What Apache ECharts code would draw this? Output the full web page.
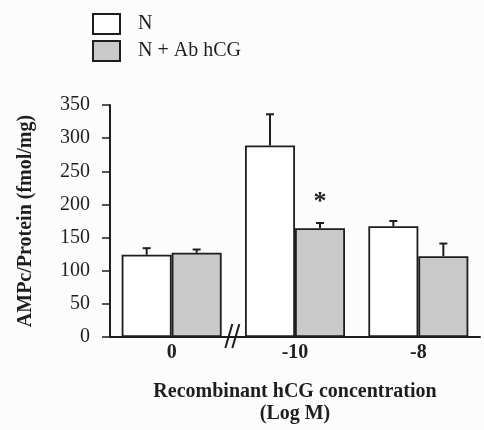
<!DOCTYPE html>
<html><head><meta charset="utf-8">
<script src="https://cdn.jsdelivr.net/npm/echarts@6/dist/echarts.min.js"></script>
<style>html,body{margin:0;padding:0;background:#fcfcfc}#c{width:484px;height:430px}</style>
</head><body><div id="c"></div>
<script>
// ---- data ----
const categories = ['0', '-10', '-8'];
const seriesNames = ['N', 'N + Ab hCG'];
const valuesN = [124, 289, 167];
const errorsN = [10, 47, 8];
const valuesAb = [127, 164, 122];
const errorsAb = [5, 8, 19];
const significanceAb = ['', '*', ''];
const yMin = 0, yMax = 350, yStep = 50;
const xAxisTitle = 'Recombinant hCG concentration\n(Log M)';
const yAxisTitle = 'AMPc/Protein (fmol/mg)';

// ---- styles ----
const FONT = 'Liberation Serif';
const INK = '#1e1e1e';
const BAR_W = 50;
const colors = ['#ffffff', '#c9c9c9'];

function errorSeries(name, vals, errs, offset, marks) {
  return {
    type: 'custom',
    name: name + ' err',
    silent: true,
    z: 5,
    data: vals.map((v, i) => [i, v, errs[i]]),
    renderItem: function (params, api) {
      const i = api.value(0), v = api.value(1), e = api.value(2);
      const base = api.coord([i, v]);
      const top = api.coord([i, v + e]);
      const x = base[0] + offset;
      const children = [
        { type: 'line', shape: { x1: x, y1: base[1], x2: x, y2: top[1] }, style: { stroke: INK, lineWidth: 2 } },
        { type: 'line', shape: { x1: x - 4, y1: top[1], x2: x + 4, y2: top[1] }, style: { stroke: INK, lineWidth: 2 } }
      ];
      const m = marks ? marks[params.dataIndex] : '';
      if (m) {
        children.push({ type: 'text', x: x, y: top[1] - 21,
          style: { text: m, fontSize: 26, fontFamily: FONT, fontWeight: 'bold', fill: INK, align: 'center', verticalAlign: 'middle' } });
      }
      return { type: 'group', children: children };
    }
  };
}

const chart = echarts.init(document.getElementById('c'), null, { renderer: 'canvas' });
const option = {
  backgroundColor: '#fcfcfc',
  animation: false,
  textStyle: { fontFamily: FONT, color: INK },
  legend: {
    left: 92, top: 13, padding: 0, orient: 'vertical', itemWidth: 27, itemHeight: 20, itemGap: 5,
    icon: 'rect', data: seriesNames,
    textStyle: { fontFamily: FONT, fontSize: 20, color: INK, padding: [0, 0, 0, 13] }
  },
  grid: { left: 110, right: 4, top: 105, bottom: 90, containLabel: false },
  xAxis: {
    type: 'category', data: categories,
    axisLine: { lineStyle: { color: INK, width: 2 } },
    axisTick: { alignWithLabel: true, length: 4, lineStyle: { color: INK, width: 1.5 } },
    axisLabel: { fontFamily: FONT, fontSize: 20, fontWeight: 'bold', color: INK, margin: 6 },
    name: xAxisTitle, nameLocation: 'middle', nameGap: 44,
    nameTextStyle: { fontFamily: FONT, fontSize: 20, fontWeight: 'bold', color: INK, lineHeight: 22 }
  },
  yAxis: {
    type: 'value', min: yMin, max: yMax, interval: yStep,
    axisLine: { show: true, lineStyle: { color: INK, width: 2 } },
    axisTick: { show: true, length: 8, lineStyle: { color: INK, width: 1.5 } },
    splitLine: { show: false },
    axisLabel: { fontFamily: FONT, fontSize: 20, color: INK, margin: 20 },
    name: yAxisTitle, nameLocation: 'middle', nameGap: 74, nameRotate: 90,
    nameTextStyle: { fontFamily: FONT, fontSize: 20, fontWeight: 'bold', color: INK }
  },
  series: [
    { type: 'bar', name: seriesNames[0], data: valuesN, barWidth: BAR_W, barGap: '0%',
      itemStyle: { color: colors[0], borderColor: INK, borderWidth: 1.8 } },
    { type: 'bar', name: seriesNames[1], data: valuesAb, barWidth: BAR_W, barGap: '0%',
      itemStyle: { color: colors[1], borderColor: INK, borderWidth: 1.8 } },
    errorSeries(seriesNames[0], valuesN, errorsN, -BAR_W / 2, null),
    errorSeries(seriesNames[1], valuesAb, errorsAb, BAR_W / 2, significanceAb)
  ]
};
chart.setOption(option);

// axis break mark "//" between the first and second category
const p0 = chart.convertToPixel({ xAxisIndex: 0 }, 0);
const p1 = chart.convertToPixel({ xAxisIndex: 0 }, 1);
const bx = (p0 + p1) / 2;
const by = chart.convertToPixel({ yAxisIndex: 0 }, 0);
chart.setOption({
  graphic: [
    { type: 'line', shape: { x1: bx - 8, y1: by + 11, x2: bx - 1, y2: by - 13 }, style: { stroke: INK, lineWidth: 2 }, z: 10 },
    { type: 'line', shape: { x1: bx - 1, y1: by + 11, x2: bx + 6, y2: by - 13 }, style: { stroke: INK, lineWidth: 2 } , z: 10 }
  ]
});
</script>
</body></html>
